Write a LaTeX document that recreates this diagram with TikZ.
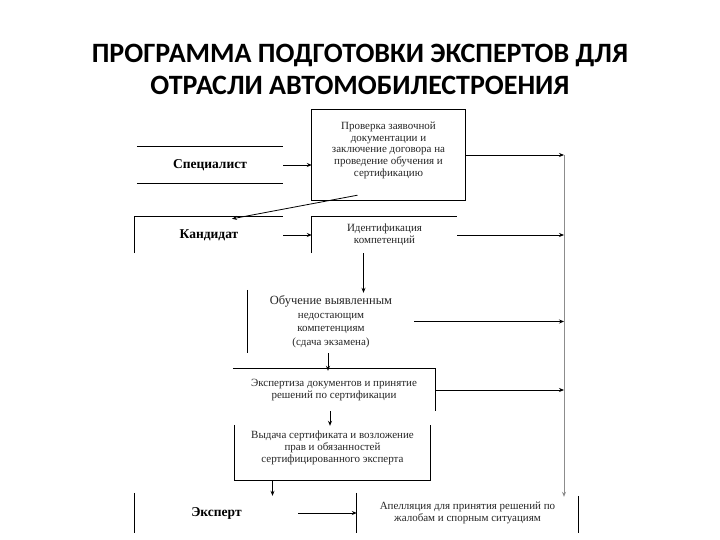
\documentclass[tikz,border=0pt]{standalone}
\usepackage{fontspec}
\setmainfont{Liberation Serif}
\newfontfamily\titlefont{Carlito}
\usetikzlibrary{arrows.meta,calc}
\begin{document}
\begin{tikzpicture}[x=1pt,y=-1pt,
  frame/.style={line width=0.9pt, draw=black},
  conn/.style={line width=0.8pt, -{Stealth[length=5pt,width=4pt]}},
  busline/.style={line width=0.8pt, draw=black!45, -{Stealth[length=5pt,width=4pt]}},
  lbl/.style={font=\fontsize{11}{11.7}\selectfont, align=center, inner sep=0pt, text=black!85},
  lblb/.style={font=\fontsize{13.5}{14}\selectfont\bfseries, align=center, inner sep=0pt},
]
\useasboundingbox (0,0) rectangle (720,540);
\fill[white] (0,0) rectangle (720,540);

\node[font=\titlefont\bfseries\fontsize{28}{32}\selectfont, align=center, inner sep=0pt] (title) at (360,69)
  {ПРОГРАММА ПОДГОТОВКИ ЭКСПЕРТОВ ДЛЯ\\ОТРАСЛИ АВТОМОБИЛЕСТРОЕНИЯ};

\node[lblb, minimum width=146, minimum height=36] (spec) at (210,165) {Специалист};
\node[lbl, minimum width=153, minimum height=90] (check) at (388.5,155)
  {Проверка заявочной\\документации и\\заключение договора на\\проведение обучения и\\сертификацию\\\mbox{}};
\node[lblb, minimum width=148, minimum height=36] (cand) at (209,235) {Кандидат};
\node[lbl, minimum width=145, minimum height=36] (ident) at (384.5,235) {Идентификация\\компетенций};
\node[lbl, font=\fontsize{11}{13.5}\selectfont, minimum width=166, minimum height=63] (obuch) at (331,321.5)
  {{\fontsize{12.5}{13.5}\selectfont Обучение выявленным}\\недостающим\\компетенциям\\(сдача экзамена)};
\node[lbl, minimum width=202, minimum height=42] (exp) at (334,390)
  {Экспертиза документов и принятие\\решений по сертификации};
\node[lbl, minimum width=195, minimum height=55] (vyd) at (332.5,452.5)
  {Выдача сертификата и возложение\\прав и обязанностей\\сертифицированного эксперта\\\mbox{}};
\node[lblb, minimum width=163, minimum height=40] (eks) at (216.5,513) {Эксперт};
\node[lbl, minimum width=221, minimum height=40] (app) at (467.5,513)
  {Апелляция для принятия решений по\\жалобам и спорным ситуациям};

% partial frames
\draw[frame] (spec.north west) -- (spec.north east) (spec.south west) -- (spec.south east);
\draw[frame] (check.north west) rectangle (check.south east);
\draw[frame] (cand.south west) -- (cand.north west) -- (cand.north east);
\draw[frame] (ident.south west) -- (ident.north west) -- (ident.north east);
\draw[frame] (obuch.north west) -- (obuch.south west);
\draw[frame] (exp.north west) -- (exp.north east) -- (exp.south east);
\draw[frame] (vyd.north west) -- (vyd.south west) -- (vyd.south east) -- (vyd.north east);
\draw[frame] (eks.north west) -- (eks.south west);
\draw[frame] (app.north west) -- (app.south west);
\draw[frame] ([yshift=-3]app.north east) -- (app.south east);

% bus line on the right
\coordinate (bus) at (564,155);
\draw[busline] (bus) -- ([yshift=-4]bus |- app.north);

% connectors
\draw[conn] (spec.east) -- (spec.east -| check.west);
\draw[conn] ([xshift=-31,yshift=5]check.south) -- ([xshift=23,yshift=-2]cand.north);
\draw[conn] (cand.east) -- (ident.west);
\draw[conn] (check.east) -- (check.east -| bus);
\draw[conn] (ident.east) -- (ident.east -| bus);
\draw[conn] ([xshift=-21]ident.south) -- ([xshift=-21,yshift=-3]ident.south |- obuch.north);
\draw[conn] (obuch.east) -- (obuch.east -| bus);
\draw[conn] ([xshift=-3]obuch.south) -- ([xshift=-3,yshift=-2]obuch.south |- exp.north);
\draw[conn] (exp.east) -- (exp.east -| bus);
\draw[conn] ([xshift=-4]exp.south) -- ([xshift=-4,yshift=-1]exp.south |- vyd.north);
\draw[conn] ([xshift=-60]vyd.south) -- ([xshift=-60,yshift=-3]vyd.south |- eks.north);
\draw[conn] (eks.east) -- (app.west);
\end{tikzpicture}
\end{document}
